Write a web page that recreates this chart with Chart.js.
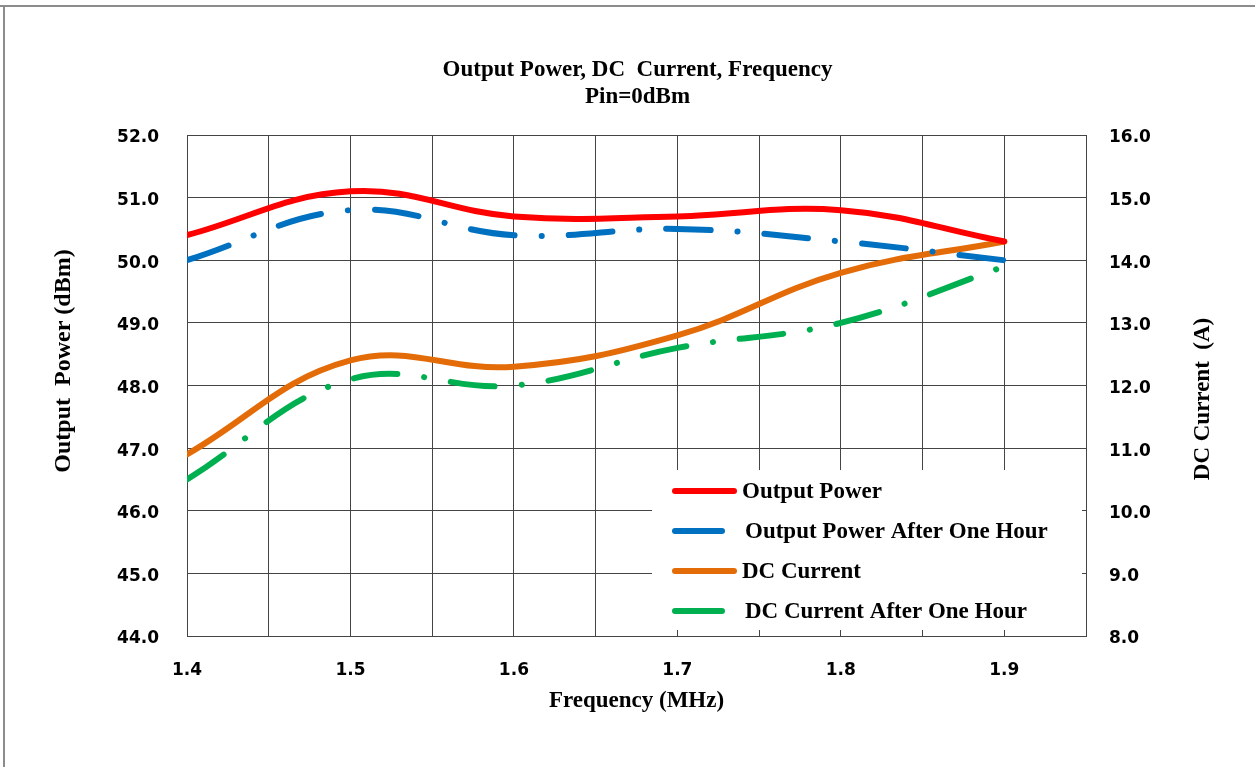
<!DOCTYPE html>
<html>
<head>
<meta charset="utf-8">
<script src="https://cdn.jsdelivr.net/npm/chart.js@4.4.1/dist/chart.umd.min.js"></script>
<style>
  body { margin: 0; background: #fff; }
  canvas { display: block; }
</style>
</head>
<body>
<canvas id="powerChart" width="1255" height="767"></canvas>
<script>
// values
var frequency = [1.4, 1.5, 1.6, 1.7, 1.8, 1.9];
var outputPower = [50.4, 51.1, 50.7, 50.7, 50.8, 50.3];
var outputPowerHour = [50.0, 50.8, 50.4, 50.5, 50.3, 50.0];
var dcCurrent = [10.9, 12.4, 12.3, 12.8, 13.8, 14.3];
var dcCurrentHour = [10.5, 12.1, 12.0, 12.6, 13.0, 13.9];

var xRange = [1.4, 1.95];
var powerRange = [44, 52];
var currentRange = [8, 16];

var titleLines = ['Output Power, DC  Current, Frequency', 'Pin=0dBm'];
var xTitle = 'Frequency (MHz)';
var leftTitle = 'Output  Power (dBm)';
var rightTitle = 'DC Current  (A)';

var serif = '"Liberation Serif", "Times New Roman", serif';
var sans = '"DejaVu Sans", sans-serif';
var gridColor = '#444';

function pts(ys) {
    return frequency.map(function (f, i) { return { x: f, y: ys[i] }; });
}

// frame, side axis titles and the legend box
var extras = {
    id: 'extras',
    beforeDraw: function (chart) {
        var ctx = chart.ctx;
        ctx.save();
        ctx.fillStyle = '#fff';
        ctx.fillRect(0, 0, chart.width, chart.height);
        ctx.fillStyle = '#8c8c8c';
        ctx.fillRect(0, 5, chart.width, 2);
        ctx.fillRect(3, 5, 2, chart.height);
        ctx.restore();
    },
    afterDraw: function (chart) {
        var ctx = chart.ctx;
        ctx.save();
        ctx.fillStyle = '#000';
        ctx.textAlign = 'center';
        ctx.textBaseline = 'middle';

        ctx.font = 'bold 24px ' + serif;
        ctx.save();
        ctx.translate(64, 361);
        ctx.rotate(-Math.PI / 2);
        ctx.fillText(leftTitle, 0, 0);
        ctx.restore();

        ctx.font = 'bold 23px ' + serif;
        ctx.save();
        ctx.translate(1203, 399);
        ctx.rotate(-Math.PI / 2);
        ctx.fillText(rightTitle, 0, 0);
        ctx.restore();

        // legend
        ctx.fillStyle = '#fff';
        ctx.fillRect(652, 470, 430, 160);
        var rows = [491, 531, 571, 611];
        var lens = [62, 50, 62, 50];
        var textX = [742, 745, 742, 745];
        ctx.textAlign = 'left';
        ctx.lineCap = 'round';
        chart.data.datasets.forEach(function (ds, i) {
            ctx.strokeStyle = ds.borderColor;
            ctx.lineWidth = 6;
            ctx.beginPath();
            ctx.moveTo(675, rows[i]);
            ctx.lineTo(675 + lens[i] - 3, rows[i]);
            ctx.stroke();
            ctx.fillStyle = '#000';
            ctx.font = 'bold 23px ' + serif;
            ctx.fillText(ds.label, textX[i], rows[i] + 1);
        });
        ctx.restore();
    }
};

var dashDot = [44, 27, 0.1, 27];

var config = {
    type: 'line',
    data: {
        datasets: [{
            label: 'Output Power',
            data: pts(outputPower),
            borderColor: '#ff0000',
            borderWidth: 6,
            yAxisID: 'y'
        }, {
            label: 'Output Power After One Hour',
            data: pts(outputPowerHour),
            borderColor: '#0070c0',
            borderWidth: 6,
            borderDash: dashDot,
            yAxisID: 'y'
        }, {
            label: 'DC Current',
            data: pts(dcCurrent),
            borderColor: '#e36c09',
            borderWidth: 6,
            yAxisID: 'y1'
        }, {
            label: 'DC Current After One Hour',
            data: pts(dcCurrentHour),
            borderColor: '#00b050',
            borderWidth: 6,
            borderDash: dashDot,
            yAxisID: 'y1'
        }]
    },
    options: {
        responsive: false,
        animation: false,
        devicePixelRatio: 1,
        layout: { padding: { left: 20, right: 0, top: 0, bottom: 0 } },
        elements: {
            point: { radius: 0 },
            line: { tension: 0.4, borderCapStyle: 'round', fill: false }
        },
        plugins: {
            legend: { display: false },
            tooltip: { enabled: false },
            title: {
                display: true,
                text: titleLines,
                color: '#000',
                font: { family: serif, size: 23, weight: 'bold', lineHeight: 1.174 },
                padding: { top: 56.5, bottom: 24.5 }
            }
        },
        scales: {
            x: {
                type: 'linear',
                min: xRange[0],
                max: xRange[1],
                afterFit: function (s) { s.height = 131; },
                grid: { color: gridColor, drawTicks: false, lineWidth: 1 },
                border: { color: gridColor, width: 1 },
                ticks: {
                    stepSize: 0.05,
                    autoSkip: false,
                    maxRotation: 0,
                    padding: 24,
                    color: '#000',
                    font: { family: sans, size: 17, weight: 'bold' },
                    callback: function (v) {
                        var k = Math.round(v * 100);
                        if (k % 10 === 0 && k <= 190) return (k / 100).toFixed(1);
                        return '';
                    }
                },
                title: {
                    display: true,
                    text: xTitle,
                    color: '#000',
                    font: { family: serif, size: 23, weight: 'bold', lineHeight: 1.2 },
                    padding: { top: 0, bottom: 52 }
                }
            },
            y: {
                position: 'left',
                min: powerRange[0],
                max: powerRange[1],
                afterFit: function (s) { s.width = 167; },
                grid: { color: gridColor, drawTicks: false },
                border: { color: gridColor },
                ticks: {
                    stepSize: 1,
                    padding: 28,
                    labelOffset: 3,
                    color: '#000',
                    font: { family: sans, size: 17, weight: 'bold' },
                    callback: function (v) { return v.toFixed(1); }
                }
            },
            y1: {
                position: 'right',
                min: currentRange[0],
                max: currentRange[1],
                afterFit: function (s) { s.width = 169; },
                grid: { drawOnChartArea: false, drawTicks: false },
                border: { color: gridColor },
                ticks: {
                    stepSize: 1,
                    padding: 23,
                    labelOffset: 3,
                    color: '#000',
                    font: { family: sans, size: 17, weight: 'bold' },
                    callback: function (v) { return v.toFixed(1); }
                }
            }
        }
    },
    plugins: [extras]
};

var powerChart = new Chart(document.getElementById('powerChart'), config);
</script>
</body>
</html>
